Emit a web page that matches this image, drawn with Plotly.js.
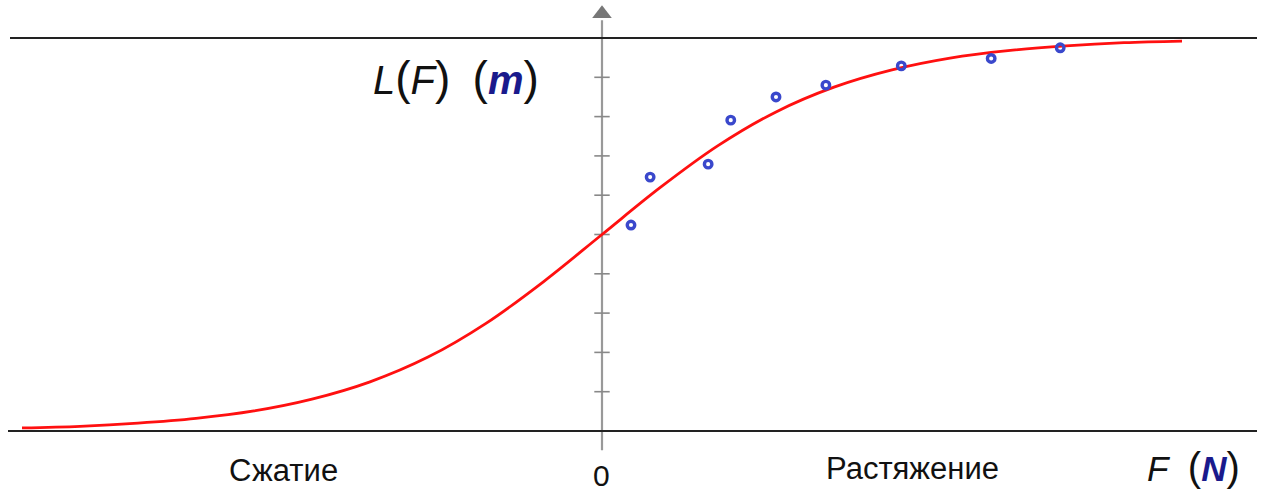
<!DOCTYPE html>
<html>
<head>
<meta charset="utf-8">
<script src="https://cdn.plot.ly/plotly-3.0.1.min.js"></script>
<style>html,body{margin:0;padding:0;background:#fff;}#chart{width:1262px;height:492px;}</style>
</head>
<body>
<div id="chart"></div>
<script>
// Fitted curve L(F)
const curveF = [-10, -9, -8, -7, -6, -5, -4, -3, -2, -1, 0, 1, 2, 3, 4, 5, 6, 7, 8, 9, 10];
const curveL = [0.08, 0.12, 0.20, 0.32, 0.51, 0.81, 1.25, 1.88, 2.74, 3.81, 5.00, 6.19, 7.26, 8.12, 8.75, 9.19, 9.49, 9.68, 9.80, 9.88, 9.92];
// Measured points
const pointF = [0.50, 0.83, 1.83, 2.22, 3.00, 3.86, 5.16, 6.71, 7.90];
const pointL = [5.24, 6.46, 6.79, 7.91, 8.50, 8.80, 9.29, 9.48, 9.75];
// Vertical axis ticks
const tickL = [1, 2, 3, 4, 5, 6, 7, 8, 9];
const lowerLimit = 0, upperLimit = 10;

const traces = [
  {x: tickL.map(() => 0), y: tickL, mode: 'markers', type: 'scatter',
   marker: {symbol: 'line-ew', size: 11, line: {color: '#888', width: 1.6}}, hoverinfo: 'skip'},
  {x: [0], y: [10.62], mode: 'markers', type: 'scatter',
   marker: {symbol: 'triangle-up', size: 17, color: '#777'}, hoverinfo: 'skip'},
  {x: curveF, y: curveL, mode: 'lines', type: 'scatter',
   line: {color: '#ff1010', width: 2.8, shape: 'spline', smoothing: 1.0}},
  {x: pointF, y: pointL, mode: 'markers', type: 'scatter',
   marker: {symbol: 'circle-open', size: 7.5, color: '#3a48cc', line: {color: '#3a48cc', width: 3.4}}}
];

const layout = {
  width: 1262, height: 492, autosize: false,
  margin: {l: 0, r: 0, t: 0, b: 0},
  paper_bgcolor: '#fff', plot_bgcolor: '#fff',
  showlegend: false,
  xaxis: {range: [-602/58, 660/58], visible: false, fixedrange: true},
  yaxis: {range: [-61/39.3, 431/39.3], visible: false, fixedrange: true},
  shapes: [
    {type: 'line', xref: 'x', yref: 'y', x0: 0, x1: 0, y0: -0.49, y1: 10.45,
     line: {color: '#999', width: 2.2}, layer: 'below'},
    {type: 'line', xref: 'paper', yref: 'y', x0: 8/1262, x1: 1257/1262, y0: lowerLimit, y1: lowerLimit,
     line: {color: '#222', width: 2.2}},
    {type: 'line', xref: 'paper', yref: 'y', x0: 10/1262, x1: 1257/1262, y0: upperLimit, y1: upperLimit,
     line: {color: '#222', width: 2.2}}
  ],
  annotations: [
    {xref: 'paper', yref: 'paper', x: 456/1262, y: 1 - 78/492, xanchor: 'center', yanchor: 'middle', showarrow: false,
     text: '<i>L</i><span style="font-size:46px">(</span><i>F</i><span style="font-size:46px">)</span>&nbsp;&nbsp;<span style="font-size:46px">(</span><b><i><span style="color:#1a1a8c">m</span></i></b><span style="font-size:46px">)</span>',
     font: {family: 'Liberation Sans, Arial, sans-serif', size: 40, color: '#111'}},
    {xref: 'paper', yref: 'paper', x: 1193/1262, y: 1 - 467/492, xanchor: 'center', yanchor: 'middle', showarrow: false,
     text: '<i>F</i>&nbsp;&nbsp;<span style="font-size:40px">(</span><b><i><span style="color:#1a1a8c">N</span></i></b><span style="font-size:40px">)</span>',
     font: {family: 'Liberation Sans, Arial, sans-serif', size: 35, color: '#111'}},
    {xref: 'paper', yref: 'paper', x: 283.5/1262, y: 1 - 470/492, xanchor: 'center', yanchor: 'middle', showarrow: false,
     text: 'Сжатие', font: {family: 'Liberation Sans, Arial, sans-serif', size: 31, color: '#111'}},
    {xref: 'paper', yref: 'paper', x: 601/1262, y: 1 - 475/492, xanchor: 'center', yanchor: 'middle', showarrow: false,
     text: '0', font: {family: 'Liberation Sans, Arial, sans-serif', size: 30, color: '#111'}},
    {xref: 'paper', yref: 'paper', x: 912/1262, y: 1 - 468/492, xanchor: 'center', yanchor: 'middle', showarrow: false,
     text: 'Растяжение', font: {family: 'Liberation Sans, Arial, sans-serif', size: 31, color: '#111'}}
  ]
};

Plotly.newPlot('chart', traces, layout, {staticPlot: true, displayModeBar: false});
</script>
</body>
</html>
